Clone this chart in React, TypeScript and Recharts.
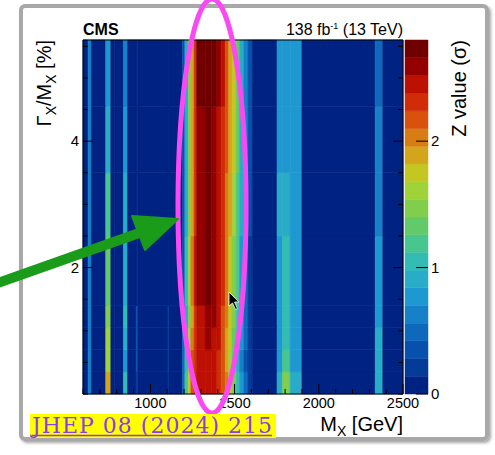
import React from 'react';
import { ScatterChart, Scatter, XAxis, YAxis, ReferenceArea } from 'recharts';

// M_X bin edges (GeV)
const massEdges = [600, 630, 650, 735, 765, 785, 840, 865, 915, 925, 1105, 1110, 1190, 1205, 1225, 1240, 1260, 1275, 1325, 1365, 1395, 1420, 1445, 1465, 1485, 1510, 1530, 1555, 1580, 1605, 1752, 1785, 1830, 1900, 2335, 2380, 2500];
// Gamma_X / M_X bin edges (%)
const widthEdges = [0, 0.35, 0.7, 1.05, 1.4, 2.5, 3.5, 4.55, 5.6];

// Z values (sigma), one list per width row, bottom to top
const zRow0 = [0.05, 0.63, 0.05, 1.9, 0.05, 0.05, 1.05, 0.05, 0.2, 0.05, 0.2, 0.05, 0.5, 1.2, 1.75, 2.17, 2.3, 2.45, 2.45, 2.45, 2.3, 2.17, 2.03, 1.75, 1.47, 1.05, 0.77, 0.5, 0.2, 0.05, 0.9, 1.47, 0.9, 0.05, 0.9, 0.05];
const zRow1 = [0.05, 0.63, 0.05, 1.6, 0.05, 0.05, 0.77, 0.05, 0.35, 0.05, 0.35, 0.05, 0.5, 1.05, 1.75, 2.17, 2.3, 2.45, 2.45, 2.45, 2.3, 2.17, 1.9, 1.6, 1.33, 0.9, 0.63, 0.35, 0.2, 0.05, 0.77, 1.2, 0.77, 0.05, 0.9, 0.05];
const zRow2 = [0.05, 0.63, 0.05, 1.6, 0.05, 0.05, 0.9, 0.05, 0.35, 0.05, 0.35, 0.05, 0.5, 1.05, 1.6, 2.03, 2.3, 2.45, 2.6, 2.45, 2.45, 2.17, 1.9, 1.75, 1.33, 1.05, 0.77, 0.5, 0.2, 0.05, 0.77, 1.05, 0.77, 0.05, 0.9, 0.05];
const zRow3 = [0.05, 0.63, 0.05, 1.47, 0.05, 0.05, 1.05, 0.05, 0.35, 0.05, 0.35, 0.05, 0.35, 0.9, 1.47, 1.9, 2.3, 2.45, 2.6, 2.6, 2.45, 2.17, 2.03, 1.75, 1.47, 1.05, 0.77, 0.5, 0.2, 0.05, 0.77, 1.05, 0.77, 0.05, 0.77, 0.05];
const zRow4 = [0.05, 0.63, 0.05, 1.33, 0.05, 0.05, 0.9, 0.05, 0.05, 0.05, 0.05, 0.05, 0.35, 1.05, 1.6, 2.03, 2.45, 2.6, 2.74, 2.6, 2.45, 2.3, 2.03, 1.75, 1.47, 1.2, 0.77, 0.5, 0.2, 0.05, 0.77, 1.05, 0.77, 0.05, 0.77, 0.05];
const zRow5 = [0.05, 0.63, 0.05, 1.2, 0.05, 0.05, 0.9, 0.05, 0.05, 0.05, 0.05, 0.05, 0.35, 0.9, 1.47, 1.9, 2.3, 2.6, 2.74, 2.6, 2.45, 2.3, 2.03, 1.9, 1.6, 1.2, 0.9, 0.63, 0.35, 0.05, 0.9, 0.9, 0.77, 0.05, 0.63, 0.05];
const zRow6 = [0.05, 0.63, 0.05, 0.9, 0.05, 0.05, 0.77, 0.05, 0.05, 0.05, 0.05, 0.05, 0.35, 0.9, 1.47, 1.9, 2.3, 2.6, 2.74, 2.6, 2.45, 2.3, 2.17, 1.9, 1.75, 1.33, 0.9, 0.63, 0.35, 0.05, 0.77, 0.77, 0.77, 0.05, 0.63, 0.05];
const zRow7 = [0.05, 0.63, 0.05, 0.77, 0.05, 0.05, 0.63, 0.05, 0.05, 0.05, 0.05, 0.05, 0.35, 0.9, 1.47, 1.9, 2.3, 2.74, 2.74, 2.74, 2.6, 2.45, 2.17, 1.9, 1.75, 1.33, 0.9, 0.63, 0.35, 0.05, 0.77, 0.77, 0.77, 0.05, 0.5, 0.05];
const zRows = [zRow0, zRow1, zRow2, zRow3, zRow4, zRow5, zRow6, zRow7];

const zStep = 0.14;
const zMax = 2.8;
const palette = [
  '#002283', '#043a98', '#0850ad', '#0e68bc', '#1680c8', '#1e98d0', '#28acc8', '#32bcb4', '#48c690', '#62ca68',
  '#80ce4c', '#a0d23a', '#c4c622', '#d4a41a', '#d87c14', '#d8520e', '#d02c08', '#bc1002', '#940000', '#700000',
];

const massTicks = [600, 700, 800, 900, 1000, 1100, 1200, 1300, 1400, 1500, 1600, 1700, 1800, 1900, 2000, 2100, 2200, 2300, 2400, 2500];
const massMajor = [1000, 1500, 2000, 2500];
const widthTicks = [0, 0.5, 1, 1.5, 2, 2.5, 3, 3.5, 4, 4.5, 5, 5.5];
const widthMajor = [2, 4];
const zTicks = [0, 1, 2];

const FONT = "'Liberation Sans', Arial, Helvetica, sans-serif";

function colorOf(z: number) {
  const k = Math.min(palette.length - 1, Math.max(0, Math.floor(z / zStep + 1e-9)));
  return palette[k];
}

function MassTickBottom(props: any) {
  const { x, y, payload } = props;
  const major = massMajor.includes(payload.value);
  return (
    <g>
      <line x1={x} x2={x} y1={y} y2={y - (major ? 10 : 5)} stroke="#000" strokeWidth={1} />
      {major && (
        <text x={x} y={y + 14} textAnchor="middle" fontSize={14.5} fontFamily={FONT} fill="#000">
          {payload.value}
        </text>
      )}
    </g>
  );
}

function MassTickTop(props: any) {
  const { x, y, payload } = props;
  const major = massMajor.includes(payload.value);
  return <line x1={x} x2={x} y1={y} y2={y + (major ? 10 : 5)} stroke="#000" strokeWidth={1} />;
}

function WidthTickLeft(props: any) {
  const { x, y, payload } = props;
  const major = widthMajor.includes(payload.value);
  return (
    <g>
      <line x1={x} x2={x + (major ? 10 : 5)} y1={y} y2={y} stroke="#000" strokeWidth={1} />
      {major && (
        <text x={x - 4} y={y + 5} textAnchor="end" fontSize={15} fontFamily={FONT} fill="#000">
          {payload.value}
        </text>
      )}
    </g>
  );
}

function WidthTickRight(props: any) {
  const { x, y, payload } = props;
  const major = widthMajor.includes(payload.value);
  return <line x1={x} x2={x - (major ? 10 : 5)} y1={y} y2={y} stroke="#000" strokeWidth={1} />;
}

function ZTick(props: any) {
  const { x, y, payload } = props;
  return (
    <g>
      <line x1={x} x2={x - 12} y1={y} y2={y} stroke="#000" strokeWidth={1} />
      <text x={x + 3} y={y + 5} textAnchor="start" fontSize={15} fontFamily={FONT} fill="#000">
        {payload.value}
      </text>
    </g>
  );
}

function HeatMap() {
  const cells: React.ReactNode[] = [];
  zRows.forEach((row, r) => {
    row.forEach((z, c) => {
      const col = colorOf(z);
      cells.push(
        <ReferenceArea
          key={`c-${r}-${c}`}
          x1={massEdges[c]}
          x2={massEdges[c + 1]}
          y1={widthEdges[r]}
          y2={widthEdges[r + 1]}
          fill={col}
          fillOpacity={1}
          stroke={col}
          strokeWidth={0.6}
          isFront={false}
        />
      );
    });
  });
  return (
    <ScatterChart width={495} height={455} margin={{ top: 39, right: 91, bottom: 31, left: 43 }}>
      <Scatter data={[]} isAnimationActive={false} />
      {cells}
      <XAxis
        type="number"
        dataKey="x"
        domain={[600, 2500]}
        allowDataOverflow
        ticks={massTicks}
        interval={0}
        tickSize={0}
        tickMargin={0}
        tickLine={false}
        axisLine={{ stroke: '#000' }}
        height={30}
        tick={<MassTickBottom />}
      />
      <XAxis
        xAxisId="top"
        orientation="top"
        type="number"
        domain={[600, 2500]}
        allowDataOverflow
        ticks={massTicks}
        interval={0}
        tickSize={0}
        tickMargin={0}
        tickLine={false}
        axisLine={{ stroke: '#000' }}
        height={1}
        tick={<MassTickTop />}
      />
      <YAxis
        type="number"
        dataKey="y"
        domain={[0, 5.6]}
        allowDataOverflow
        ticks={widthTicks}
        interval={0}
        tickSize={0}
        tickMargin={0}
        tickLine={false}
        axisLine={{ stroke: '#000' }}
        width={40}
        tick={<WidthTickLeft />}
      />
      <YAxis
        yAxisId="right"
        orientation="right"
        type="number"
        domain={[0, 5.6]}
        allowDataOverflow
        ticks={widthTicks}
        interval={0}
        tickSize={0}
        tickMargin={0}
        tickLine={false}
        axisLine={{ stroke: '#000' }}
        width={1}
        tick={<WidthTickRight />}
      />
    </ScatterChart>
  );
}

function ColorBar() {
  return (
    <ScatterChart width={495} height={455} margin={{ top: 40, right: 27, bottom: 61, left: 405 }}>
      <Scatter data={[]} isAnimationActive={false} />
      {palette.map((col, k) => (
        <ReferenceArea
          key={`z-${k}`}
          x1={0}
          x2={1}
          y1={k * zStep}
          y2={Math.min(zMax, (k + 1) * zStep)}
          fill={col}
          fillOpacity={1}
          stroke={col}
          strokeWidth={0.5}
        />
      ))}
      <XAxis type="number" dataKey="x" domain={[0, 1]} allowDataOverflow hide />
      <YAxis
        type="number"
        dataKey="y"
        orientation="right"
        domain={[0, zMax]}
        allowDataOverflow
        ticks={zTicks}
        interval={0}
        tickSize={0}
        tickMargin={0}
        tickLine={false}
        axisLine={false}
        width={40}
        tick={<ZTick />}
      />
    </ScatterChart>
  );
}

export default function App() {
  const abs: React.CSSProperties = { position: 'absolute', left: 0, top: 0 };
  return (
    <div style={{ position: 'absolute', left: 0, top: 0, width: 495, height: 455, background: '#fff', overflow: 'hidden' }}>
      <svg width={495} height={455} style={abs}>
        <defs>
          <filter id="shadow" x="-5%" y="-5%" width="110%" height="110%">
            <feDropShadow dx="2" dy="2" stdDeviation="1.5" floodColor="#000" floodOpacity="0.35" />
          </filter>
        </defs>
        <rect x={21} y={6} width={466} height={433} rx={4} fill="#fff" stroke="#a8a8a8" strokeWidth={4} filter="url(#shadow)" />
      </svg>
      <div style={abs}>
        <HeatMap />
      </div>
      <div style={abs}>
        <ColorBar />
      </div>
      <svg width={495} height={455} style={{ ...abs, pointerEvents: 'none' }}>
        <text x={83} y={35} fontSize={16} fontWeight="bold" fontFamily={FONT} fill="#000">CMS</text>
        <text x={403} y={35} textAnchor="end" fontSize={16} fontFamily={FONT} fill="#000">
          138 fb
          <tspan fontSize={9} dy={-6}>-1</tspan>
          <tspan dy={6}> (13 TeV)</tspan>
        </text>
        <text transform="translate(51,40) rotate(-90)" textAnchor="end" fontSize={20} fontFamily={FONT} fill="#000">
          Γ<tspan fontSize={14} dy={5}>X</tspan>
          <tspan dy={-5}>/M</tspan>
          <tspan fontSize={14} dy={5}>X</tspan>
          <tspan dy={-5}> [%]</tspan>
        </text>
        <text transform="translate(466,40) rotate(-90)" textAnchor="end" fontSize={20} fontFamily={FONT} fill="#000">
          Z value (σ)
        </text>
        <text x={403} y={431} textAnchor="end" fontSize={20} fontFamily={FONT} fill="#000">
          M<tspan fontSize={14} dy={5}>X</tspan>
          <tspan dy={-5}> [GeV]</tspan>
        </text>
        <ellipse cx={212} cy={206} rx={34} ry={207} fill="none" stroke="#fb48f5" strokeWidth={5} />
        <line x1={-5} y1={284} x2={142} y2={232} stroke="#1a9b1a" strokeWidth={10} />
        <polygon points="178,219 132,216 145,250" fill="#1a9b1a" stroke="#1a9b1a" strokeWidth={2} strokeLinejoin="round" />
        <polygon
          points="229,292 229,306 232.5,303 235.5,309.5 237.5,308.5 234.5,302 239,302"
          fill="#000"
          stroke="#fff"
          strokeWidth={0.8}
        />
        <rect x={30} y={414} width={246} height={24} fill="#ffff00" />
        <text x={32} y={433} fontSize={22} fontFamily="'DejaVu Serif', 'Liberation Serif', serif" fill="#8a3ee8" textLength={240} lengthAdjust="spacing">
          JHEP 08 (2024) 215
        </text>
        <line x1={32} x2={272} y1={435.5} y2={435.5} stroke="#8a3ee8" strokeWidth={1.5} />
      </svg>
    </div>
  );
}
